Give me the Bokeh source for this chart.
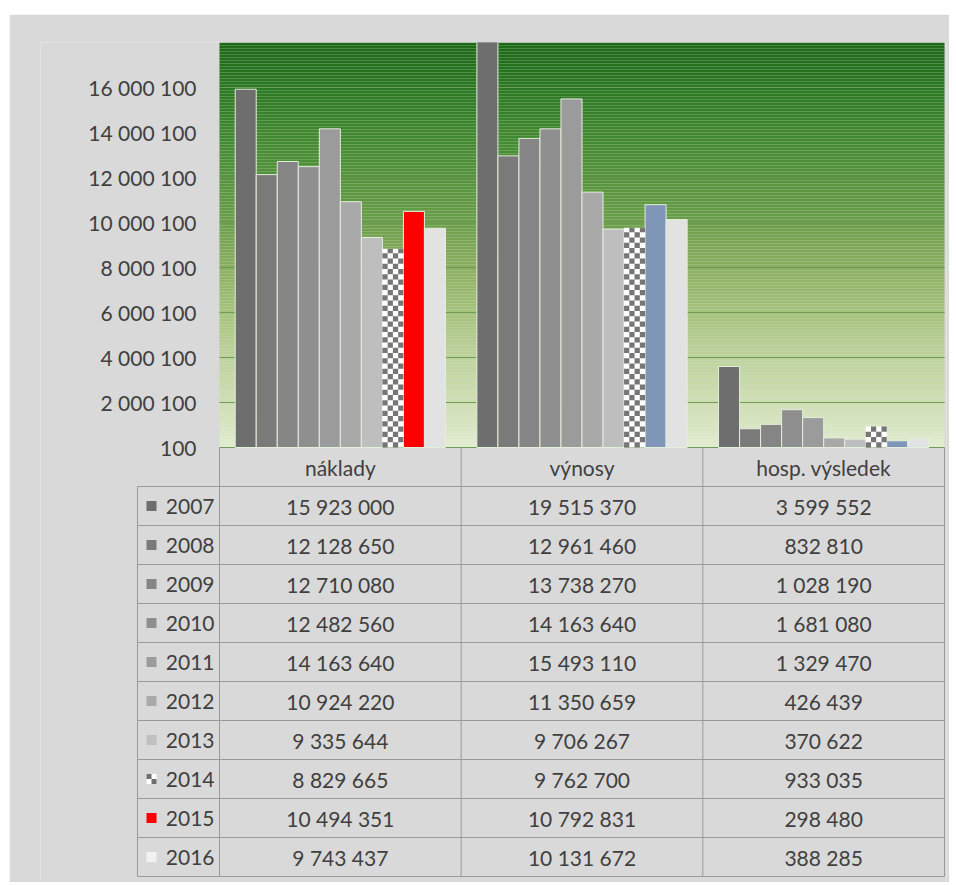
import math
from bokeh.plotting import figure
from bokeh.layouts import column, row
from bokeh.models import Range1d, FixedTicker, Spacer
from bokeh.core.properties import value
from bokeh.embed import file_html
from bokeh.resources import INLINE

# ---------------- data ----------------
categories = ["náklady", "výnosy", "hosp. výsledek"]
years = ["2007", "2008", "2009", "2010", "2011", "2012", "2013", "2014", "2015", "2016"]
naklady = [15923000, 12128650, 12710080, 12482560, 14163640, 10924220, 9335644, 8829665, 10494351, 9743437]
vynosy = [19515370, 12961460, 13738270, 14163640, 15493110, 11350659, 9706267, 9762700, 10792831, 10131672]
hosp_vysledek = [3599552, 832810, 1028190, 1681080, 1329470, 426439, 370622, 933035, 298480, 388285]
series = [naklady, vynosy, hosp_vysledek]
y_ticks = [100, 2000100, 4000100, 6000100, 8000100, 10000100, 12000100, 14000100, 16000100]
y_min, y_max = 100, 18000100

# ---------------- style ----------------
year_colors = ["#6e6e6e", "#7a7a7a", "#858585", "#8f8f8f", "#9b9b9b", "#a9a9a9", "#bebebe",
               "checker", "#7f96b8", "#e2e2e2"]
special_colors = {(0, 8): "#ff0000"}  # náklady 2015 bar is red
key_colors = ["#6e6e6e", "#7a7a7a", "#858585", "#8f8f8f", "#9b9b9b", "#a9a9a9", "#c0c0c0",
              "checker", "#ff0000", "#f2f2f2"]
BG = "#d9d9d9"
TXT = "#404040"
FONT = value("Lato")
FS = "21px"
LINE = "#9a9a9a"

def fmt(v):
    return f"{v:,}".replace(",", " ")

# ---------------- geometry (screen px of the page) ----------------
OX, OY = 9, 14                 # top-left of the grey chart box
W, H = 940, 868
plot_l, plot_r = 219, 944      # plot area (categories 0..3)
plot_t, plot_b = 42, 447       # plot area (y_max .. y_min)
frame_l, frame_r = 40, 946
frame_t, frame_b = plot_t, OY + H
row_h = 39.0

unit = (plot_r - plot_l) / 3.0
ppd = (plot_b - plot_t) / (y_max - y_min)
x_start = (frame_l - plot_l) / unit
x_end = (frame_r - plot_l) / unit

p = figure(width=W, height=H, output_backend="svg", toolbar_location=None,
           x_range=Range1d(x_start, x_end),
           y_range=Range1d(y_min - (frame_b - plot_b) / ppd, y_max),
           min_border_left=frame_l - OX, min_border_right=OX + W - frame_r,
           min_border_top=frame_t - OY, min_border_bottom=0,
           background_fill_color=BG, border_fill_color=BG, outline_line_color=None)
p.extra_y_ranges = {"table": Range1d(start=(frame_b - plot_b) / row_h,
                                     end=(frame_t - plot_b) / row_h)}
p.grid.visible = False
p.xaxis.visible = False

# gradient plot-area background
stops = [(0.0, (28, 106, 22)), (0.11, (42, 120, 34)), (0.22, (62, 136, 46)), (0.44, (106, 158, 72)),
         (0.56, (140, 176, 96)), (0.67, (166, 196, 124)), (0.78, (190, 211, 156)),
         (0.89, (207, 223, 178)), (1.0, (226, 238, 208))]
def grad(f):
    for (f0, c0), (f1, c1) in zip(stops[:-1], stops[1:]):
        if f0 <= f <= f1:
            t = (f - f0) / (f1 - f0)
            return "#%02x%02x%02x" % tuple(int(round(a + (b - a) * t)) for a, b in zip(c0, c1))
    return "#%02x%02x%02x" % stops[-1][1]
N = 135
step = (y_max - y_min) / N
p.quad(left=0, right=3,
       bottom=[y_max - (k + 1) * step for k in range(N)],
       top=[y_max - k * step for k in range(N)],
       fill_color=[grad((k + 0.5) / N) for k in range(N)], line_color=None)

# gridlines inside the plot area
p.segment(x0=0, x1=3, y0=y_ticks, y1=y_ticks, line_color="#6f9a5a", line_width=1)

# bars
bw = 0.087
L, R, T, C = [], [], [], []
chk_L, chk_R, chk_B, chk_T = [], [], [], []
white_L, white_R, white_T = [], [], []
cell_h = 5.25 / ppd
for c, vals in enumerate(series):
    for i, v in enumerate(vals):
        xc = c + 0.5 + (i - 4.5) * bw
        col = special_colors.get((c, i), year_colors[i])
        if col == "checker":
            white_L.append(xc - bw / 2); white_R.append(xc + bw / 2); white_T.append(v)
            rows = math.ceil((v - y_min) / cell_h)
            for r in range(rows):
                for k in range(4):
                    if (r + k) % 2 == 0:
                        chk_L.append(xc - bw / 2 + k * bw / 4)
                        chk_R.append(xc - bw / 2 + (k + 1) * bw / 4)
                        chk_B.append(y_min + r * cell_h)
                        chk_T.append(min(y_min + (r + 1) * cell_h, v))
        else:
            L.append(xc - bw / 2); R.append(xc + bw / 2); T.append(v); C.append(col)

p.quad(left=L, right=R, bottom=y_min, top=T, fill_color=C, line_color="#e4eedc", line_width=1)
p.quad(left=white_L, right=white_R, bottom=y_min, top=white_T, fill_color="#ffffff", line_color=None)
p.quad(left=chk_L, right=chk_R, bottom=chk_B, top=chk_T, fill_color="#767676", line_color=None)

# y axis drawn at the plot-area edge
ax = p.yaxis[0]
ax.fixed_location = 0
ax.ticker = FixedTicker(ticks=y_ticks)
ax.major_label_overrides = {t: fmt(t) for t in y_ticks}
ax.axis_line_color = None
ax.major_tick_line_color = None
ax.minor_tick_line_color = None
ax.major_label_standoff = 17
ax.major_label_text_font = "Lato"
ax.major_label_text_font_size = FS
ax.major_label_text_color = TXT

# ---------------- data table ----------------
n = len(years)
x_tab_left = (137 - plot_l) / unit
p.segment(x0=x_tab_left, x1=3, y0=list(range(1, n + 2)), y1=list(range(1, n + 2)),
          line_color=LINE, line_width=1, y_range_name="table")
p.segment(x0=[0, 1, 2, 3], x1=[0, 1, 2, 3], y0=0, y1=n + 1,
          line_color=LINE, line_width=1, y_range_name="table")
p.segment(x0=[x_tab_left], x1=[x_tab_left], y0=1, y1=n + 1,
          line_color=LINE, line_width=1, y_range_name="table")

p.text(x=[c + 0.5 for c in range(3)], y=[0.5] * 3, text=categories,
       text_align="center", text_baseline="middle", text_font=FONT,
       text_font_size=FS, text_color=TXT, y_range_name="table")
tx, ty, tt = [], [], []
for c, vals in enumerate(series):
    for i, v in enumerate(vals):
        tx.append(c + 0.5); ty.append(i + 1.5); tt.append(fmt(v))
p.text(x=tx, y=ty, text=tt, text_align="center", text_baseline="middle", text_font=FONT,
       text_font_size=FS, text_color=TXT, y_range_name="table")
p.text(x=[(214 - plot_l) / unit] * n, y=[i + 1.5 for i in range(n)], text=years,
       text_align="right", text_baseline="middle", text_font=FONT, text_font_size=FS,
       text_color=TXT, y_range_name="table")

kx = (151 - plot_l) / unit
kxs, kys, kcs = [], [], []
ck_x, ck_y = [], []
for i, kc in enumerate(key_colors):
    kxs.append(kx); kys.append(i + 1.5)
    if kc == "checker":
        kcs.append("#ffffff")
        for dx, dy in [(-2.5, -2.5), (2.5, 2.5)]:
            ck_x.append(kx + dx / unit); ck_y.append(i + 1.5 + dy / row_h)
    else:
        kcs.append(kc)
p.scatter(x=kxs, y=kys, marker="square", size=10, fill_color=kcs, line_color=None,
          y_range_name="table")
p.scatter(x=ck_x, y=ck_y, marker="square", size=5, fill_color="#6e6e6e", line_color=None,
          y_range_name="table")

layout = column(Spacer(width=W + OX, height=OY), row(Spacer(width=OX, height=H), p))
open("out.html", "w").write(file_html(layout, INLINE))
